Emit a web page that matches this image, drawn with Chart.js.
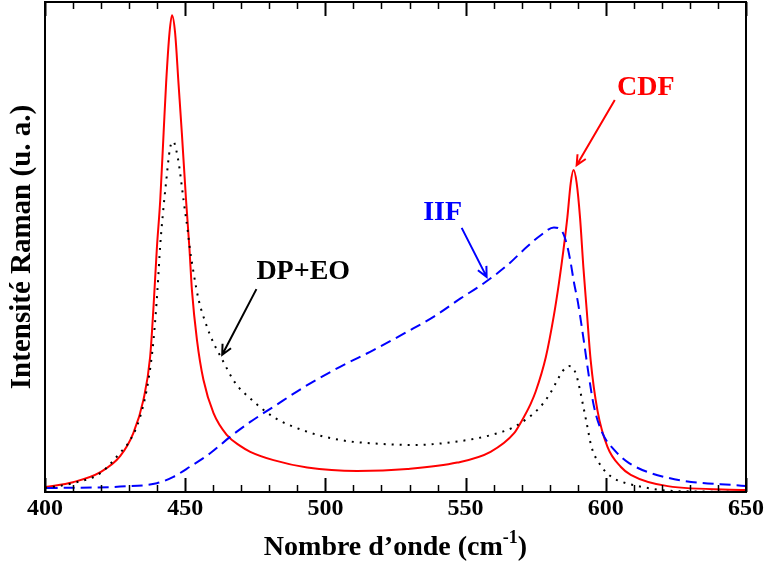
<!DOCTYPE html>
<html>
<head>
<meta charset="utf-8">
<script src="https://cdn.jsdelivr.net/npm/chart.js@4/dist/chart.umd.min.js"></script>
<style>
  html, body { margin: 0; padding: 0; background: #fff; }
  #wrap { width: 768px; height: 567px; }
</style>
</head>
<body>
<div id="wrap"><canvas id="raman"></canvas></div>
<script>
// wavenumber (cm-1) / intensity (a.u., 0-100)
const cdfX = [400, 410, 419.6, 426.8, 431.5, 435.1, 437.5, 438.7, 439.9, 441.1, 442.3, 443.2, 444.4, 445.3,
  446.4, 447.6, 448.8, 450.3, 451.5, 452.4, 454.2, 456.5, 460.1, 464.9, 469.6, 473.2, 481.5, 493.5, 511.3, 529.2,
  547.0, 558.9, 567.3, 569.6, 573.2, 575.0, 578.6, 581.5, 583.3, 584.9, 586.3, 587.5, 588.5, 589.6, 590.8,
  592.0, 593.2, 594.6, 597.0, 600.6, 605.4, 608.9, 622.1, 650];
const cdfY = [1.0, 2.0, 4.0, 7.3, 12.0, 18.8, 27.6, 37.8, 49.8, 59.6, 73.3, 83.5, 93.7, 97.3,
  93.7, 83.5, 73.3, 59.6, 49.8, 41.2, 31.0, 22.9, 16.1, 11.6, 9.4, 8.2, 6.5, 5.0, 4.3, 4.7,
  6.0, 8.2, 12.0, 14.1, 18.0, 20.5, 27.5, 36.1, 42.7, 49.4, 56.1, 63.1, 65.7, 63.1, 56.1,
  45.9, 37.1, 26.9, 16.7, 9.2, 5.1, 3.5, 1.2, 0.4];

const iifX = [400.6, 426.8, 439.9, 445.8, 451.8, 458.9, 466.1, 473.2, 481.5, 493.5, 505.4, 517.3, 529.2,
  538.7, 548.2, 556.5, 564.9, 572.0, 576.8, 581.5, 584.5, 586.3, 587.5, 588.7, 589.9, 590.8, 592.3,
  594.0, 595.8, 598.8, 603.0, 608.3, 622.1, 650];
const iifY = [0.8, 1.1, 1.8, 3.1, 5.2, 7.9, 11.3, 14.3, 17.4, 21.8, 25.6, 29.0, 32.7,
  35.8, 39.5, 42.6, 46.3, 50.1, 52.4, 54.0, 53.1, 50.1, 46.7, 42.6, 39.2, 36.1, 30.3,
  23.5, 17.4, 12.0, 8.6, 5.9, 2.9, 1.2];

const dpX = [400, 410, 419.6, 426.8, 430.4, 433.9, 436.9, 438.7, 440.1, 441.1, 442.0, 443.2, 444.6, 445.8,
  446.8, 447.9, 449.4, 451.0, 451.5, 453.0, 454.8, 457.1, 460.1, 462.5, 467.9, 472.6, 481.5, 493.5,
  505.4, 517.3, 531.5, 547.0, 558.9, 567.3, 576.2, 579.8, 582.8, 584.5, 586.9, 589.3, 590.8, 592.0,
  593.2, 594.9, 597.6, 601.5, 607.1, 610.0, 619.6, 633.9, 650];
const dpY = [0.8, 1.8, 3.8, 8.0, 10.6, 15.3, 22.9, 31.0, 41.2, 50.4, 56.5, 63.3, 70.2, 71.5,
  69.8, 66.3, 59.6, 52.9, 50.4, 44.7, 39.2, 34.8, 30.4, 27.8, 22.2, 19.4, 15.3, 12.3,
  10.6, 9.9, 9.6, 10.3, 11.6, 13.3, 17.1, 19.8, 22.9, 24.6, 25.7, 24.2, 20.8, 17.4,
  14.0, 9.2, 5.9, 3.3, 1.8, 1.4, 0.4, 0.1, 0];

const majorTicks = [400, 450, 500, 550, 600, 650];
const minorTicks = [];
for (let v = 400; v <= 650; v += 10) minorTicks.push(v);

// labels with their arrows (data units)
const notes = [
  { text: 'CDF',   color: '#ff0000', at: [614.3, 82.4], from: [603.2, 80.0], to: [589.6, 66.7] },
  { text: 'IIF',   color: '#0000ff', at: [541.8, 56.9], from: [548.6, 53.9], to: [557.5, 43.9] },
  { text: 'DP+EO', color: '#000000', at: [492.1, 44.9], from: [475.4, 41.4], to: [463.2, 28.0] }
];

const serif = "'Liberation Serif', 'Times New Roman', serif";

function pts(xs, ys) {
  return xs.map((x, i) => ({ x: x, y: ys[i] }));
}

const deco = {
  id: 'deco',
  afterDatasetsDraw(chart) {
    const ctx = chart.ctx;
    const a = chart.chartArea;
    const xs = chart.scales.x, ys = chart.scales.y;
    ctx.save();
    ctx.strokeStyle = '#000';
    ctx.lineWidth = 2;
    ctx.strokeRect(a.left, a.top, a.right - a.left, a.bottom - a.top);
    minorTicks.forEach(v => {
      const px = Math.round(xs.getPixelForValue(v)) + 0.5;
      const big = majorTicks.includes(v);
      const len = big ? 14 : 7;
      ctx.lineWidth = big ? 2 : 1.5;
      ctx.beginPath();
      ctx.moveTo(px, a.bottom); ctx.lineTo(px, a.bottom - len);
      ctx.moveTo(px, a.top); ctx.lineTo(px, a.top + len);
      ctx.stroke();
    });

    notes.forEach(n => {
      ctx.fillStyle = n.color;
      ctx.strokeStyle = n.color;
      ctx.font = 'bold 28px ' + serif;
      ctx.textAlign = 'center';
      ctx.textBaseline = 'middle';
      ctx.fillText(n.text, xs.getPixelForValue(n.at[0]), ys.getPixelForValue(n.at[1]));
      const x1 = xs.getPixelForValue(n.from[0]), y1 = ys.getPixelForValue(n.from[1]);
      const x2 = xs.getPixelForValue(n.to[0]), y2 = ys.getPixelForValue(n.to[1]);
      ctx.lineWidth = 2;
      ctx.beginPath();
      ctx.moveTo(x1, y1); ctx.lineTo(x2, y2);
      const ang = Math.atan2(y2 - y1, x2 - x1);
      const h = 11;
      ctx.moveTo(x2 - h * Math.cos(ang - 0.45), y2 - h * Math.sin(ang - 0.45));
      ctx.lineTo(x2, y2);
      ctx.lineTo(x2 - h * Math.cos(ang + 0.45), y2 - h * Math.sin(ang + 0.45));
      ctx.stroke();
    });
    ctx.restore();
  },
  afterDraw(chart) {
    // x axis title with superscript
    const ctx = chart.ctx;
    const a = chart.chartArea;
    ctx.save();
    ctx.fillStyle = '#000';
    ctx.textBaseline = 'alphabetic';
    ctx.textAlign = 'left';
    const big = 'bold 28px ' + serif, small = 'bold 18px ' + serif;
    const s1 = 'Nombre d\u2019onde (cm', s2 = '-1', s3 = ')';
    ctx.font = big; const w1 = ctx.measureText(s1).width, w3 = ctx.measureText(s3).width;
    ctx.font = small; const w2 = ctx.measureText(s2).width;
    let x = (a.left + a.right) / 2 - (w1 + w2 + w3) / 2;
    const base = 555;
    ctx.font = big; ctx.fillText(s1, x, base); x += w1;
    ctx.font = small; ctx.fillText(s2, x, base - 12); x += w2;
    ctx.font = big; ctx.fillText(s3, x, base);
    ctx.restore();
  }
};

new Chart(document.getElementById('raman'), {
  type: 'line',
  data: {
    datasets: [{
      label: 'DP+EO',
      data: pts(dpX, dpY),
      borderColor: '#000000',
      borderWidth: 2,
      borderDash: [2, 6],
      pointRadius: 0,
      cubicInterpolationMode: 'monotone',
      fill: false
    }, {
      label: 'IIF',
      data: pts(iifX, iifY),
      borderColor: '#0000ff',
      borderWidth: 2,
      borderDash: [11, 6],
      pointRadius: 0,
      cubicInterpolationMode: 'monotone',
      fill: false
    }, {
      label: 'CDF',
      data: pts(cdfX, cdfY),
      borderColor: '#ff0000',
      borderWidth: 2,
      pointRadius: 0,
      cubicInterpolationMode: 'monotone',
      fill: false
    }]
  },
  options: {
    responsive: true,
    maintainAspectRatio: false,
    animation: false,
    layout: { padding: { left: 0, right: 22, top: 2, bottom: 0 } },
    plugins: { legend: { display: false }, tooltip: { enabled: false } },
    scales: {
      x: {
        type: 'linear',
        min: 400,
        max: 650,
        grid: { display: false, drawTicks: false },
        border: { display: false },
        ticks: {
          stepSize: 50,
          padding: 2,
          color: '#000',
          font: { family: serif, size: 24, weight: 'bold' }
        },
        afterFit(s) { s.height = 75; }
      },
      y: {
        min: 0,
        max: 100,
        grid: { display: false, drawTicks: false },
        border: { display: false },
        ticks: { display: false },
        title: {
          display: true,
          text: 'Intensit\u00e9 Raman (u. a.)',
          color: '#000',
          padding: { top: 5, bottom: 0 },
          font: { family: serif, size: 29, weight: 'bold' }
        },
        afterFit(s) { s.width = 45; }
      }
    }
  },
  plugins: [deco]
});
</script>
</body>
</html>
